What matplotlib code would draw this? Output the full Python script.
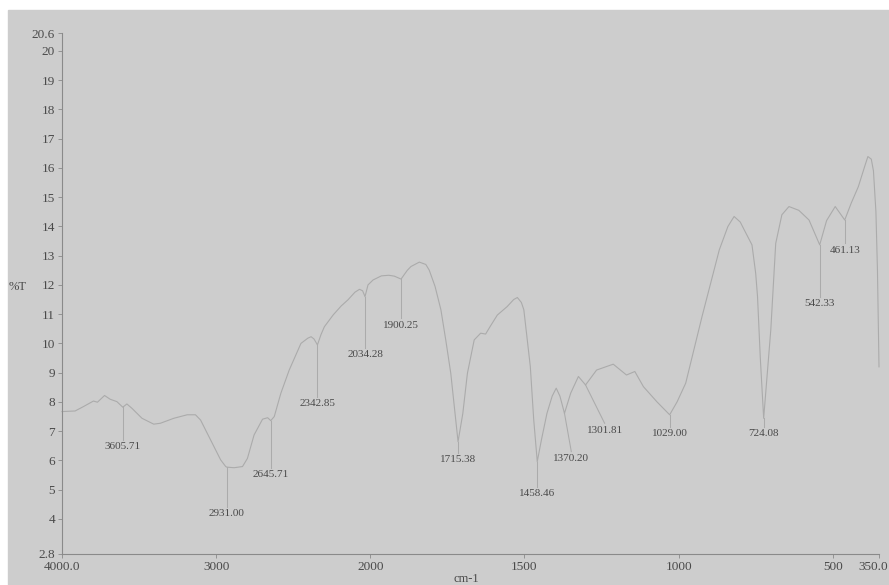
import numpy as np
import matplotlib.pyplot as plt
from matplotlib.patches import Rectangle
from matplotlib.transforms import ScaledTranslation

# IR spectrum, wavenumber (cm-1) vs %T
wavenumber = [4000, 3915, 3861, 3796, 3770, 3724, 3687, 3644, 3605.71, 3579,
              3546, 3481, 3405, 3362, 3275, 3188, 3134, 3101, 3036, 2971,
              2938, 2931.00, 2884, 2829, 2797, 2754, 2699, 2666, 2645.71, 2623,
              2580, 2526, 2450, 2405, 2384, 2365, 2342.85, 2320, 2298, 2240,
              2189, 2145, 2100, 2070, 2050, 2034.28, 2015, 1991, 1964, 1940,
              1922, 1900.25, 1880, 1868, 1841, 1820, 1809, 1790, 1771, 1755,
              1739, 1725, 1715.38, 1700, 1685, 1663, 1642, 1626, 1610, 1588,
              1556, 1535, 1523, 1510, 1502, 1481, 1470, 1458.46, 1445, 1427,
              1410, 1397, 1385, 1370.20, 1350, 1325, 1301.81, 1266, 1212, 1169,
              1142, 1114, 1070, 1029.00, 1005, 977, 950, 924, 895, 868,
              840, 820, 800, 787, 762, 750, 744, 735, 724.08, 712,
              701, 685, 665, 642, 610, 577, 542.33, 520, 492, 461.13,
              440, 417, 395, 386, 375, 368, 360, 355, 350]
transmittance = [7.67, 7.69, 7.84, 8.03, 7.99, 8.22, 8.09, 8.01, 7.82, 7.93,
                 7.78, 7.44, 7.24, 7.27, 7.44, 7.56, 7.56, 7.38, 6.70, 6.02,
                 5.79, 5.77, 5.75, 5.79, 6.07, 6.87, 7.41, 7.46, 7.36, 7.50,
                 8.30, 9.09, 10.00, 10.18, 10.23, 10.15, 9.95, 10.30, 10.57, 10.98,
                 11.28, 11.49, 11.75, 11.85, 11.80, 11.60, 12.00, 12.17, 12.31, 12.33,
                 12.30, 12.20, 12.50, 12.63, 12.78, 12.70, 12.51, 11.95, 11.15, 10.10,
                 8.98, 7.60, 6.64, 7.60, 8.98, 10.12, 10.35, 10.32, 10.60, 10.97,
                 11.26, 11.50, 11.57, 11.40, 11.15, 9.21, 7.40, 5.96, 6.70, 7.61,
                 8.20, 8.47, 8.20, 7.61, 8.30, 8.87, 8.58, 9.09, 9.29, 8.92,
                 9.04, 8.52, 8.00, 7.56, 8.00, 8.64, 9.80, 10.92, 12.10, 13.20,
                 14.00, 14.34, 14.15, 13.88, 13.37, 12.40, 11.60, 9.50, 7.44, 9.00,
                 10.46, 13.42, 14.40, 14.68, 14.55, 14.22, 13.37, 14.20, 14.68, 14.22,
                 14.80, 15.36, 16.10, 16.39, 16.30, 15.90, 14.50, 12.50, 9.20]

# picked peaks and where their labels sit
peaks = [3605.71, 2931.00, 2645.71, 2342.85, 2034.28, 1900.25, 1715.38,
         1458.46, 1370.20, 1301.81, 1029.00, 724.08, 542.33, 461.13]
label_x = [3605.71, 2931.00, 2645.71, 2342.85, 2034.28, 1900.25, 1715.38,
           1458.46, 1348.0, 1240.0, 1029.00, 724.08, 542.33, 461.13]
label_y = [6.70, 4.42, 5.74, 8.18, 9.84, 10.86, 6.26,
           5.10, 6.30, 7.27, 7.15, 7.15, 11.60, 13.42]

xticks = [4000, 3000, 2000, 1500, 1000, 500, 350]
xticklabels = ['4000.0', '3000', '2000', '1500', '1000', '500', '350.0']
yticks = [2.8, 4, 5, 6, 7, 8, 9, 10, 11, 12, 13, 14, 15, 16, 17, 18, 19, 20, 20.6]
yticklabels = ['2.8', '4', '5', '6', '7', '8', '9', '10', '11', '12', '13',
               '14', '15', '16', '17', '18', '19', '20', '20.6']

plt.rcParams['font.family'] = ['Liberation Serif', 'DejaVu Serif']

paper = '#cdcdcd'
ink = '#4a4a4a'
trace = '#ababab'


# above 2000 cm-1 the axis is compressed by half
def fwd(w):
    w = np.asarray(w, dtype=float)
    return np.where(w > 2000, 2000 + (w - 2000) / 2.0, w)


def inv(u):
    u = np.asarray(u, dtype=float)
    return np.where(u > 2000, 2000 + (u - 2000) * 2.0, u)


fig = plt.figure(figsize=(8.89, 5.85), dpi=100, facecolor='white')
fig.patches.append(Rectangle((8 / 889, 0), 1, 1 - 10 / 585,
                             transform=fig.transFigure, color=paper, zorder=-10))

ax = fig.add_axes([62 / 889, 31 / 585, (879 - 62) / 889, (554 - 33.4) / 585])
ax.set_facecolor('none')
ax.set_xscale('function', functions=(fwd, inv))
ax.set_xlim(4000, 350)
ax.set_ylim(2.8, 20.6)

ax.plot(wavenumber, transmittance, color=trace, lw=0.8, clip_on=False)

for p, lx, ly in zip(peaks, label_x, label_y):
    top = np.interp(p, wavenumber[::-1], transmittance[::-1])
    ax.plot([p, lx], [top, ly], color=trace, lw=0.75)
    ax.text(lx, ly - 0.08, '%.2f' % p, ha='center', va='top',
            fontsize=8, color=ink)

for s in ['top', 'right']:
    ax.spines[s].set_visible(False)
for s in ['left', 'bottom']:
    ax.spines[s].set_color('#8a8a8a')
    ax.spines[s].set_linewidth(0.8)

ax.set_xticks(xticks)
ax.set_xticklabels(xticklabels)
ax.set_yticks(yticks)
ax.set_yticklabels(yticklabels)
ax.minorticks_off()
ax.tick_params(axis='both', length=3, width=0.6, color='#8a8a8a',
               labelsize=9.5, labelcolor=ink, pad=2)

# last label sits right at the edge, nudge it in a bit
last = ax.get_xticklabels()[-1]
last.set_transform(last.get_transform() +
                   ScaledTranslation(-6 / 100, 0, fig.dpi_scale_trans))

fig.text(18 / 889, 1 - 287 / 585, '%T', fontsize=9, color=ink,
         ha='center', va='center')
fig.text(466 / 889, 1 - 579 / 585, 'cm-1', fontsize=9, color=ink,
         ha='center', va='center')

fig.savefig('out.png', dpi=100, facecolor='white')
